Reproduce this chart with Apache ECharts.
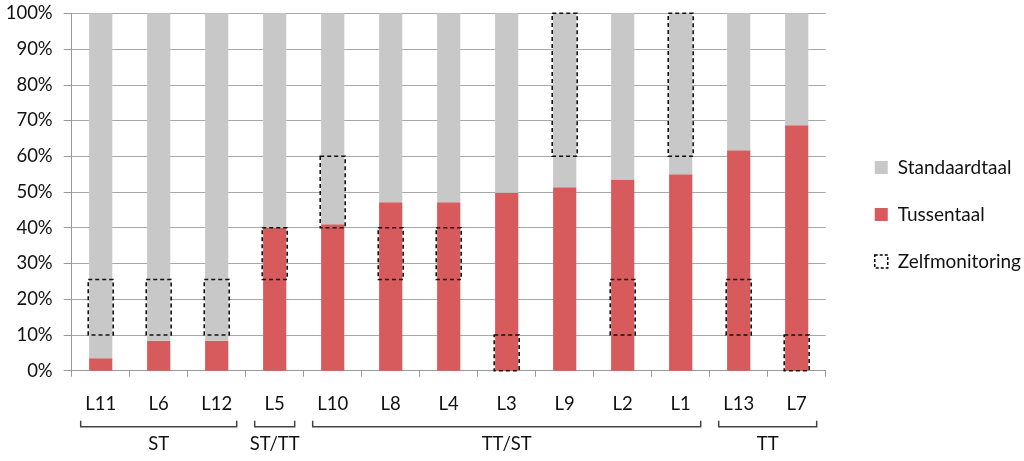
<!DOCTYPE html>
<html>
<head>
<meta charset="utf-8">
<script src="https://cdn.jsdelivr.net/npm/echarts@6/dist/echarts.min.js"></script>
<style>html,body{margin:0;padding:0;background:#fff}#c{width:1024px;height:461px}</style>
</head>
<body>
<div id="c"></div>
<script>
const categories = ['L11','L6','L12','L5','L10','L8','L4','L3','L9','L2','L1','L13','L7'];
const tussentaal = [3.5, 8.4, 8.4, 40.0, 41.0, 47.1, 47.1, 49.8, 51.3, 53.5, 55.0, 61.7, 68.7];
const standaardtaal = tussentaal.map(v => +(100 - v).toFixed(1));
const zelfLow  = [10, 10, 10, 25.5, 40, 25.5, 25.5, 0, 60, 10, 60, 10, 0];
const zelfHigh = [25.5, 25.5, 25.5, 40, 60, 40, 40, 10, 100, 25.5, 100, 25.5, 10];
const groupNames = ['ST', 'ST/TT', 'TT/ST', 'TT'];
const groupStart = [0, 3, 4, 11];
const groupEnd   = [2, 3, 10, 12];

const FONT = 'Lato';
const FS = 18.5;
const TXT = '#111';
const chart = echarts.init(document.getElementById('c'));
const option = {
  animation: false,
  textStyle: { fontFamily: FONT },
  grid: { left: 71.7, right: 198.3, top: 13.3, bottom: 90.3, containLabel: false },
  legend: {
    orient: 'vertical', left: 869, top: 153,
    itemWidth: 13, itemHeight: 13, itemGap: 28,
    textStyle: { fontFamily: FONT, fontSize: 19, color: TXT, lineHeight: 19, padding: [0, 0, 0, 5] },
    data: [
      { name: 'Standaardtaal', icon: 'rect' },
      { name: 'Tussentaal', icon: 'rect' },
      { name: 'Zelfmonitoring', icon: 'rect',
        itemStyle: { color: 'rgba(0,0,0,0)', borderColor: '#000', borderWidth: 1.5, borderType: [3, 2] } }
    ]
  },
  xAxis: {
    type: 'category', data: categories,
    axisLine: { lineStyle: { color: '#9a9a9a', width: 1 } },
    axisTick: { show: true, length: 6, lineStyle: { color: '#9a9a9a' } },
    axisLabel: { fontFamily: FONT, fontSize: FS, color: TXT, margin: 24 }
  },
  yAxis: {
    type: 'value', min: 0, max: 100, interval: 10,
    axisLine: { show: true, lineStyle: { color: '#9a9a9a' } },
    axisTick: { show: true, length: 8, lineStyle: { color: '#9a9a9a' } },
    splitLine: { lineStyle: { color: '#a8a8a8' } },
    axisLabel: { fontFamily: FONT, fontSize: FS, color: TXT, margin: 19, formatter: v => v + '%' }
  },
  series: [
    { name: 'Tussentaal', type: 'bar', stack: 'a', barWidth: '40%', data: tussentaal,
      itemStyle: { color: '#D75A5D' } },
    { name: 'Standaardtaal', type: 'bar', stack: 'a', barWidth: '40%', data: standaardtaal,
      itemStyle: { color: '#C8C8C8' } },
    { name: 'Zelfmonitoring', type: 'custom', z: 5,
      itemStyle: { color: 'rgba(0,0,0,0)', borderColor: '#000', borderType: [3, 2] },
      data: categories.map((c, i) => [i, zelfLow[i], zelfHigh[i]]),
      renderItem: function (params, api) {
        const lo = api.coord([api.value(0), api.value(1)]);
        const hi = api.coord([api.value(0), api.value(2)]);
        const w = api.size([1, 0])[0] * 0.43;
        return {
          type: 'rect',
          shape: { x: lo[0] - w / 2, y: hi[1], width: w, height: lo[1] - hi[1] },
          style: { fill: null, stroke: '#111', lineWidth: 1.6, lineDash: [4, 3] }
        };
      }
    }
  ]
};
chart.setOption(option);

// group brackets beneath category labels
const cw = chart.convertToPixel({ xAxisIndex: 0 }, 1) - chart.convertToPixel({ xAxisIndex: 0 }, 0);
const yBase = chart.convertToPixel({ yAxisIndex: 0 }, 0);
const graphics = [];
groupNames.forEach((g, k) => {
  const x0 = chart.convertToPixel({ xAxisIndex: 0 }, groupStart[k]) - cw / 2 + 9;
  const x1 = chart.convertToPixel({ xAxisIndex: 0 }, groupEnd[k]) + cw / 2 - 9;
  const yb = yBase + 56, yt = yBase + 50;
  graphics.push({
    type: 'polyline', silent: true,
    shape: { points: [[x0, yt], [x0, yb], [x1, yb], [x1, yt]] },
    style: { stroke: '#444', lineWidth: 1.5, fill: null }
  });
  graphics.push({
    type: 'text', silent: true,
    style: { text: g, x: (x0 + x1) / 2, y: yBase + 73, align: 'center', verticalAlign: 'middle',
      fontFamily: FONT, fontSize: FS, fill: TXT }
  });
});
chart.setOption({ graphic: graphics });
</script>
</body>
</html>
